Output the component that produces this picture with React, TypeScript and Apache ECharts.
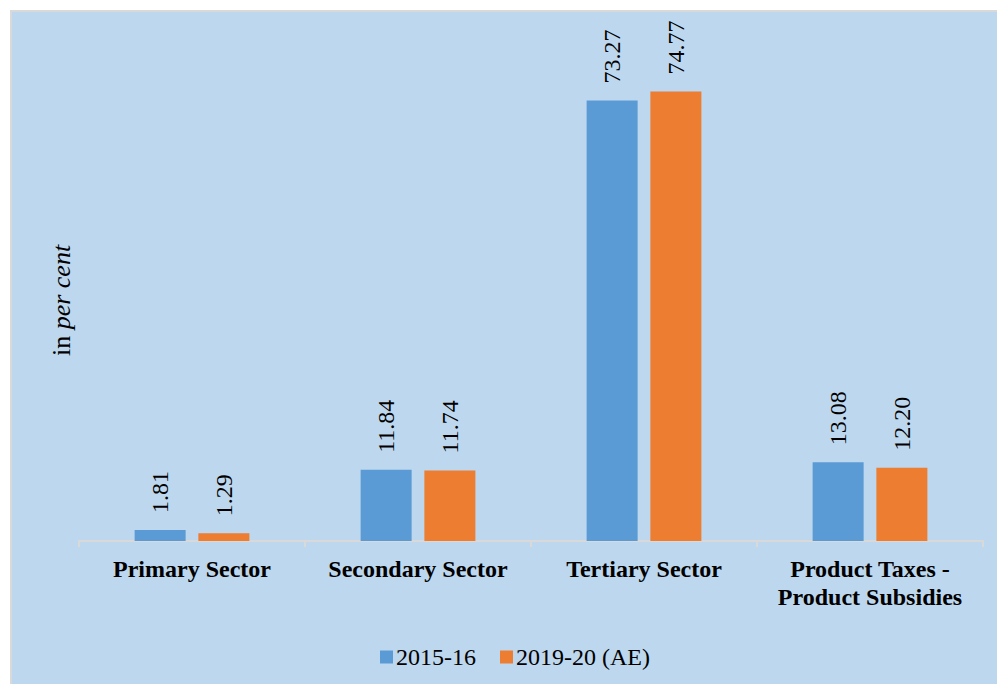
import React, { useEffect, useRef } from "react";
import * as echarts from "echarts";

const categories = ["Primary Sector", "Secondary Sector", "Tertiary Sector", "Product Taxes -\nProduct Subsidies"];
const seriesNames = ["2015-16", "2019-20 (AE)"];
const values2015 = [1.81, 11.84, 73.27, 13.08];
const values2019 = [1.29, 11.74, 74.77, 12.2];

const FONT = "Liberation Serif, Times New Roman, serif";

export default function App() {
  const ref = useRef<HTMLDivElement>(null);
  useEffect(() => {
    if (!ref.current) return;
    const chart = echarts.init(ref.current, undefined, { renderer: "svg" });
    const label = {
      show: true,
      position: "top",
      rotate: 90,
      align: "left",
      verticalAlign: "middle",
      distance: 17,
      fontFamily: FONT,
      fontSize: 24,
      color: "#000",
      formatter: (p: any) => Number(p.value).toFixed(2),
    };
    chart.setOption({
      animation: false,
      backgroundColor: "#ffffff",
      graphic: [
        {
          type: "rect",
          silent: true,
          z: -1,
          shape: { x: 11, y: 11, width: 1000, height: 700 },
          style: { fill: "#BDD7EE", stroke: "#D9D9D9", lineWidth: 2 },
        },
      ],
      grid: { left: 79, right: 14, top: 60, bottom: 143, containLabel: false },
      legend: {
        data: seriesNames,
        left: 375,
        top: 640,
        icon: "rect",
        itemWidth: 13,
        itemHeight: 13,
        itemGap: 24,
        textStyle: { fontFamily: FONT, fontSize: 24, color: "#000", padding: [0, 0, 0, -2] },
      },
      xAxis: {
        type: "category",
        data: categories,
        axisLine: { show: true, lineStyle: { color: "#D9D9D9", width: 2 } },
        axisTick: { show: true, length: 6, lineStyle: { color: "#D9D9D9", width: 2 } },
        axisLabel: {
          fontFamily: FONT,
          fontSize: 24,
          fontWeight: "bold",
          color: "#000",
          margin: 14,
          lineHeight: 28,
          interval: 0,
        },
      },
      yAxis: {
        type: "value",
        min: 0,
        max: 80,
        axisLine: { show: false },
        axisTick: { show: false },
        axisLabel: { show: false },
        splitLine: { show: false },
        name: "{a|in }{b|per cent}",
        nameLocation: "middle",
        nameRotate: 90,
        nameGap: 5,
        nameTextStyle: {
          rich: {
            a: { fontFamily: FONT, fontSize: 26, color: "#000" },
            b: { fontFamily: FONT, fontSize: 26, color: "#000", fontStyle: "italic" },
          },
        },
      },
      series: [
        {
          name: seriesNames[0],
          type: "bar",
          data: values2015,
          barWidth: 51,
          barGap: "25%",
          itemStyle: { color: "#5B9BD5" },
          label,
        },
        {
          name: seriesNames[1],
          type: "bar",
          data: values2019,
          barWidth: 51,
          barGap: "25%",
          itemStyle: { color: "#ED7D31" },
          label,
        },
      ],
    });
    return () => chart.dispose();
  }, []);
  return <div ref={ref} style={{ position: "fixed", left: 0, top: 0, width: 997, height: 684 }} />;
}
